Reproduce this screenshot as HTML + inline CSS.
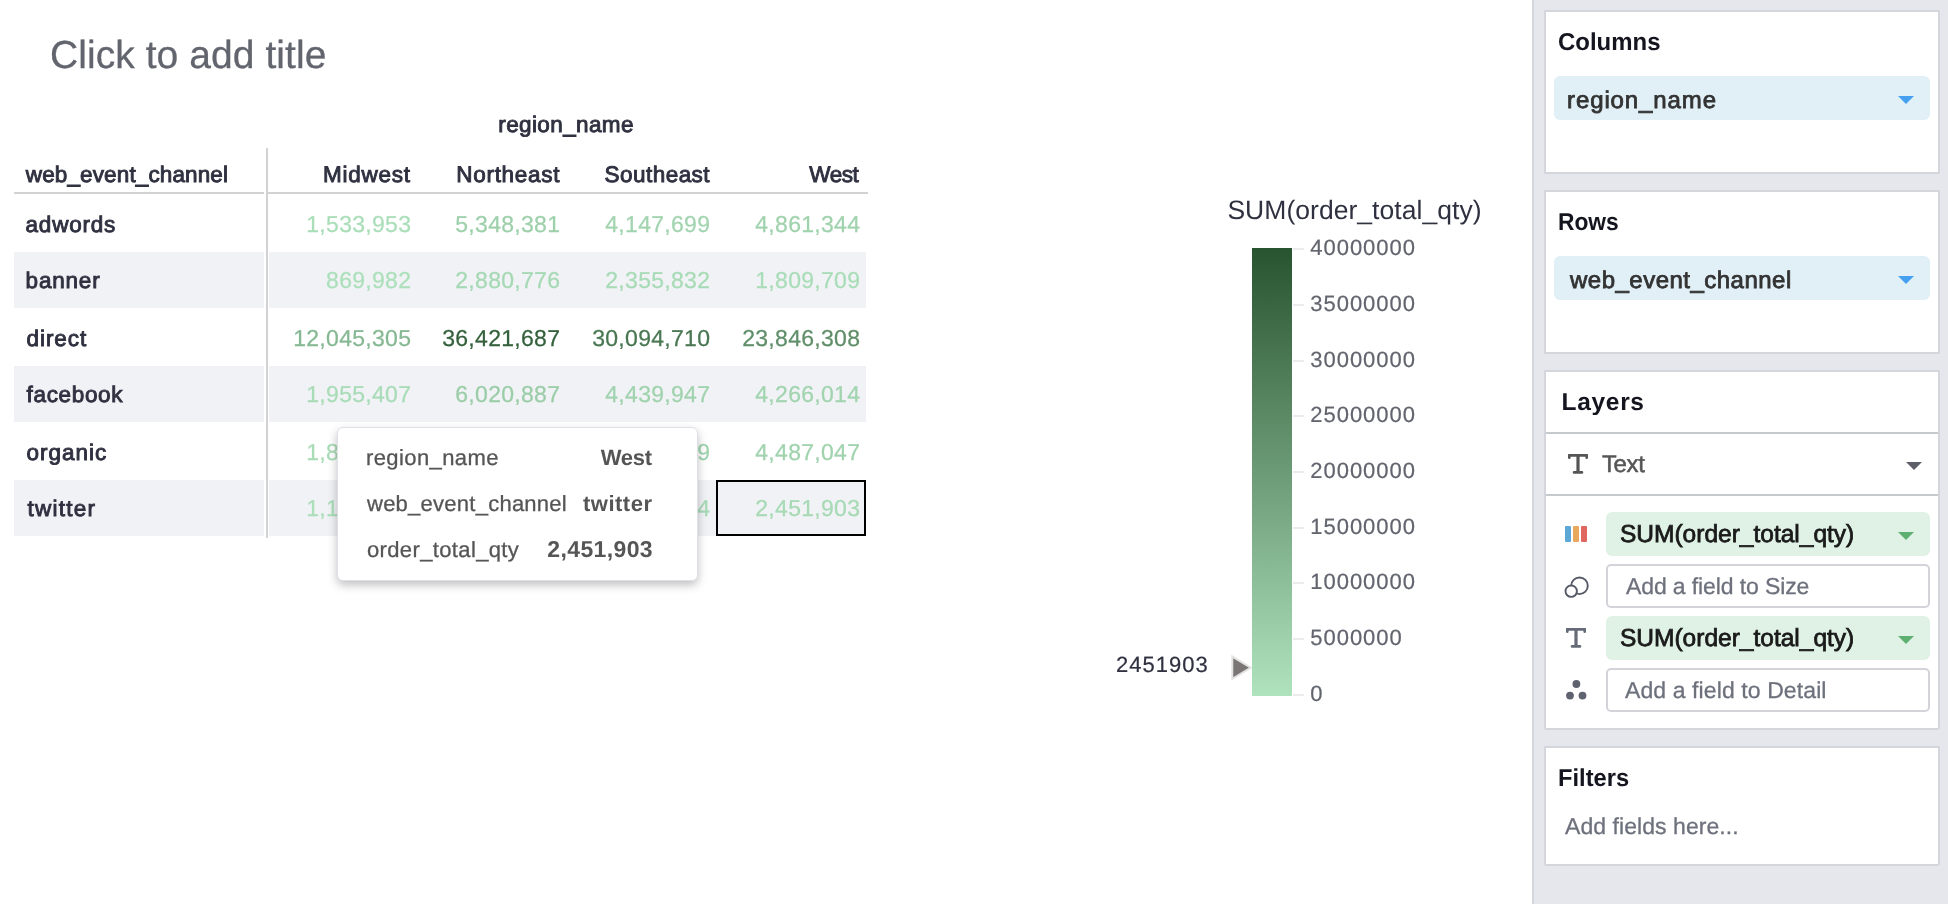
<!DOCTYPE html>
<html><head><meta charset="utf-8"><title>Pivot</title>
<style>
html,body{margin:0;padding:0;}
body{width:1948px;height:904px;position:relative;overflow:hidden;background:#fff;font-family:"Liberation Sans",sans-serif;}
.t{position:absolute;white-space:nowrap;line-height:1;text-rendering:geometricPrecision;}
.b{position:absolute;box-sizing:border-box;}
svg{position:absolute;overflow:visible;}
#root{position:absolute;left:0;top:0;width:1948px;height:904px;will-change:transform;}
</style></head><body><div id="root">
<div class="t " id="title" style="top:36px;font-size:39px;color:#62656e;letter-spacing:0.061px;-webkit-text-stroke:0.3px #62656e;left:50.0px;">Click to add title</div>
<div class="b " style="left:14px;top:252px;width:250px;height:56px;background:#f1f2f6;"></div>
<div class="b " style="left:269px;top:252px;width:597px;height:56px;background:#f1f2f6;"></div>
<div class="b " style="left:14px;top:366px;width:250px;height:56px;background:#f1f2f6;"></div>
<div class="b " style="left:269px;top:366px;width:597px;height:56px;background:#f1f2f6;"></div>
<div class="b " style="left:14px;top:480px;width:250px;height:56px;background:#f1f2f6;"></div>
<div class="b " style="left:269px;top:480px;width:597px;height:56px;background:#f1f2f6;"></div>
<div class="b " style="left:14px;top:192px;width:250px;height:2px;background:#d2d2d2;"></div>
<div class="b " style="left:268px;top:192px;width:600px;height:2px;background:#d2d2d2;"></div>
<div class="b " style="left:266px;top:148px;width:2px;height:390px;background:#d2d2d2;"></div>
<div class="t " id="hdr_region" style="top:114px;font-size:22.5px;color:#2f3140;letter-spacing:0.38px;-webkit-text-stroke:0.9px #2f3140;left:166.10000000000002px;width:800px;text-align:center;">region_name</div>
<div class="t " id="hdr_wec" style="top:164px;font-size:22.5px;color:#2f3140;letter-spacing:0.126px;-webkit-text-stroke:0.9px #2f3140;left:25.8px;">web_event_channel</div>
<div class="t " id="col_Midwest" style="top:164px;font-size:22.5px;color:#2f3140;letter-spacing:0.766px;-webkit-text-stroke:0.9px #2f3140;right:1537.23px;">Midwest</div>
<div class="t " id="col_Northeast" style="top:164px;font-size:22.5px;color:#2f3140;letter-spacing:0.697px;-webkit-text-stroke:0.9px #2f3140;right:1387.90px;">Northeast</div>
<div class="t " id="col_Southeast" style="top:164px;font-size:22.5px;color:#2f3140;letter-spacing:0.478px;-webkit-text-stroke:0.9px #2f3140;right:1237.92px;">Southeast</div>
<div class="t " id="col_West" style="top:164px;font-size:22.5px;color:#2f3140;letter-spacing:-0.467px;-webkit-text-stroke:0.9px #2f3140;right:1089.67px;">West</div>
<div class="t " id="row_adwords" style="top:214px;font-size:22.5px;color:#2f3140;letter-spacing:0.766px;-webkit-text-stroke:0.9px #2f3140;left:25.6px;">adwords</div>
<div class="t " id="v_adwords_Midwest" style="top:213px;font-size:23px;color:#aadeb9;letter-spacing:0.3px;-webkit-text-stroke:0.25px #aadeb9;right:1536.70px;">1,533,953</div>
<div class="t " id="v_adwords_Northeast" style="top:213px;font-size:23px;color:#9dd0ab;letter-spacing:0.3px;-webkit-text-stroke:0.25px #9dd0ab;right:1387.70px;">5,348,381</div>
<div class="t " id="v_adwords_Southeast" style="top:213px;font-size:23px;color:#a1d4af;letter-spacing:0.3px;-webkit-text-stroke:0.25px #a1d4af;right:1237.70px;">4,147,699</div>
<div class="t " id="v_adwords_West" style="top:213px;font-size:23px;color:#9fd2ad;letter-spacing:0.3px;-webkit-text-stroke:0.25px #9fd2ad;right:1087.70px;">4,861,344</div>
<div class="t " id="row_banner" style="top:270px;font-size:22.5px;color:#2f3140;letter-spacing:0.8px;-webkit-text-stroke:0.9px #2f3140;left:25.6px;">banner</div>
<div class="t " id="v_banner_Midwest" style="top:269px;font-size:23px;color:#ace0bb;letter-spacing:0.3px;-webkit-text-stroke:0.25px #ace0bb;right:1536.70px;">869,982</div>
<div class="t " id="v_banner_Northeast" style="top:269px;font-size:23px;color:#a5d9b4;letter-spacing:0.3px;-webkit-text-stroke:0.25px #a5d9b4;right:1387.70px;">2,880,776</div>
<div class="t " id="v_banner_Southeast" style="top:269px;font-size:23px;color:#a7dbb6;letter-spacing:0.3px;-webkit-text-stroke:0.25px #a7dbb6;right:1237.70px;">2,355,832</div>
<div class="t " id="v_banner_West" style="top:269px;font-size:23px;color:#a9ddb8;letter-spacing:0.3px;-webkit-text-stroke:0.25px #a9ddb8;right:1087.70px;">1,809,709</div>
<div class="t " id="row_direct" style="top:328px;font-size:22.5px;color:#2f3140;letter-spacing:0.92px;-webkit-text-stroke:0.9px #2f3140;left:26.6px;">direct</div>
<div class="t " id="v_direct_Midwest" style="top:327px;font-size:23px;color:#86b893;letter-spacing:0.3px;-webkit-text-stroke:0.25px #86b893;right:1536.70px;">12,045,305</div>
<div class="t " id="v_direct_Northeast" style="top:327px;font-size:23px;color:#34613c;letter-spacing:0.3px;-webkit-text-stroke:0.25px #34613c;right:1387.70px;">36,421,687</div>
<div class="t " id="v_direct_Southeast" style="top:327px;font-size:23px;color:#497752;letter-spacing:0.3px;-webkit-text-stroke:0.25px #497752;right:1237.70px;">30,094,710</div>
<div class="t " id="v_direct_West" style="top:327px;font-size:23px;color:#5f8e69;letter-spacing:0.3px;-webkit-text-stroke:0.25px #5f8e69;right:1087.70px;">23,846,308</div>
<div class="t " id="row_facebook" style="top:384px;font-size:22.5px;color:#2f3140;letter-spacing:0.658px;-webkit-text-stroke:0.9px #2f3140;left:26.6px;">facebook</div>
<div class="t " id="v_facebook_Midwest" style="top:383px;font-size:23px;color:#a8dcb7;letter-spacing:0.3px;-webkit-text-stroke:0.25px #a8dcb7;right:1536.70px;">1,955,407</div>
<div class="t " id="v_facebook_Northeast" style="top:383px;font-size:23px;color:#9bcda8;letter-spacing:0.3px;-webkit-text-stroke:0.25px #9bcda8;right:1387.70px;">6,020,887</div>
<div class="t " id="v_facebook_Southeast" style="top:383px;font-size:23px;color:#a0d3ae;letter-spacing:0.3px;-webkit-text-stroke:0.25px #a0d3ae;right:1237.70px;">4,439,947</div>
<div class="t " id="v_facebook_West" style="top:383px;font-size:23px;color:#a1d4af;letter-spacing:0.3px;-webkit-text-stroke:0.25px #a1d4af;right:1087.70px;">4,266,014</div>
<div class="t " id="row_organic" style="top:442px;font-size:22.5px;color:#2f3140;letter-spacing:1.0px;-webkit-text-stroke:0.9px #2f3140;left:26.4px;">organic</div>
<div class="t " id="v_organic_Midwest" style="top:441px;font-size:23px;color:#a9dcb7;letter-spacing:0.3px;-webkit-text-stroke:0.25px #a9dcb7;right:1536.70px;">1,843,210</div>
<div class="t " id="v_organic_Northeast" style="top:441px;font-size:23px;color:#9ccfaa;letter-spacing:0.3px;-webkit-text-stroke:0.25px #9ccfaa;right:1387.70px;">5,612,448</div>
<div class="t " id="v_organic_Southeast" style="top:441px;font-size:23px;color:#a0d4af;letter-spacing:0.3px;-webkit-text-stroke:0.25px #a0d4af;right:1237.70px;">4,305,279</div>
<div class="t " id="v_organic_West" style="top:441px;font-size:23px;color:#a0d3ae;letter-spacing:0.3px;-webkit-text-stroke:0.25px #a0d3ae;right:1087.70px;">4,487,047</div>
<div class="t " id="row_twitter" style="top:498px;font-size:22.5px;color:#2f3140;letter-spacing:1.266px;-webkit-text-stroke:0.9px #2f3140;left:27.4px;">twitter</div>
<div class="t " id="v_twitter_Midwest" style="top:497px;font-size:23px;color:#abdfba;letter-spacing:0.3px;-webkit-text-stroke:0.25px #abdfba;right:1536.70px;">1,102,345</div>
<div class="t " id="v_twitter_Northeast" style="top:497px;font-size:23px;color:#a5d8b3;letter-spacing:0.3px;-webkit-text-stroke:0.25px #a5d8b3;right:1387.70px;">3,048,711</div>
<div class="t " id="v_twitter_Southeast" style="top:497px;font-size:23px;color:#a7dab5;letter-spacing:0.3px;-webkit-text-stroke:0.25px #a7dab5;right:1237.70px;">2,401,864</div>
<div class="t " id="v_twitter_West" style="top:497px;font-size:23px;color:#a7dab5;letter-spacing:0.3px;-webkit-text-stroke:0.25px #a7dab5;right:1087.70px;">2,451,903</div>
<div class="b " style="left:716px;top:480px;width:150px;height:56px;border:2px solid #000;background:#f1f2f6;"></div>
<div class="t " style="top:497px;font-size:23px;color:#a7dab5;letter-spacing:0.3px;-webkit-text-stroke:0.25px #a7dab5;right:1087.70px;">2,451,903</div>
<div class="b " style="left:337px;top:427px;width:361px;height:154px;background:#fff;border:1px solid #dfe0e6;border-radius:6px;box-shadow:0 4px 10px rgba(0,0,0,0.25);"></div>
<div class="t " id="tk0" style="top:447px;font-size:22px;color:#555555;letter-spacing:0.4px;-webkit-text-stroke:0.3px #555555;left:366.0px;">region_name</div>
<div class="t " id="tv0" style="top:447px;font-size:22px;color:#555555;font-weight:bold;letter-spacing:-0.331px;right:1296.33px;">West</div>
<div class="t " id="tk1" style="top:493px;font-size:22px;color:#555555;letter-spacing:0.25px;-webkit-text-stroke:0.3px #555555;left:367.0px;">web_event_channel</div>
<div class="t " id="tv1" style="top:493px;font-size:22px;color:#555555;font-weight:bold;letter-spacing:0.498px;right:1295.50px;">twitter</div>
<div class="t " id="tk2" style="top:539px;font-size:22px;color:#555555;letter-spacing:0.359px;-webkit-text-stroke:0.3px #555555;left:367.0px;">order_total_qty</div>
<div class="t " id="tv2" style="top:538px;font-size:23px;color:#555555;font-weight:bold;letter-spacing:0.373px;right:1295.03px;">2,451,903</div>
<div class="t " id="leg_title" style="top:197px;font-size:26.5px;color:#2f3140;letter-spacing:0.042px;left:1227.4px;">SUM(order_total_qty)</div>
<div class="b " style="left:1252px;top:248px;width:40px;height:448px;background:linear-gradient(to bottom,#28542f,#afe3be);"></div>
<div class="b " style="left:1293px;top:248px;width:11px;height:2px;background:#ececec;"></div>
<div class="t " id="tick0" style="top:237px;font-size:22px;color:#62656e;letter-spacing:0.995px;-webkit-text-stroke:0.2px #62656e;left:1310.2px;">40000000</div>
<div class="b " style="left:1293px;top:304px;width:11px;height:2px;background:#ececec;"></div>
<div class="t " id="tick1" style="top:293px;font-size:22px;color:#62656e;letter-spacing:0.995px;-webkit-text-stroke:0.2px #62656e;left:1310.2px;">35000000</div>
<div class="b " style="left:1293px;top:360px;width:11px;height:2px;background:#ececec;"></div>
<div class="t " id="tick2" style="top:349px;font-size:22px;color:#62656e;letter-spacing:0.995px;-webkit-text-stroke:0.2px #62656e;left:1310.2px;">30000000</div>
<div class="b " style="left:1293px;top:415px;width:11px;height:2px;background:#ececec;"></div>
<div class="t " id="tick3" style="top:404px;font-size:22px;color:#62656e;letter-spacing:0.995px;-webkit-text-stroke:0.2px #62656e;left:1310.2px;">25000000</div>
<div class="b " style="left:1293px;top:471px;width:11px;height:2px;background:#ececec;"></div>
<div class="t " id="tick4" style="top:460px;font-size:22px;color:#62656e;letter-spacing:0.995px;-webkit-text-stroke:0.2px #62656e;left:1310.2px;">20000000</div>
<div class="b " style="left:1293px;top:527px;width:11px;height:2px;background:#ececec;"></div>
<div class="t " id="tick5" style="top:516px;font-size:22px;color:#62656e;letter-spacing:0.995px;-webkit-text-stroke:0.2px #62656e;left:1310.2px;">15000000</div>
<div class="b " style="left:1293px;top:582px;width:11px;height:2px;background:#ececec;"></div>
<div class="t " id="tick6" style="top:571px;font-size:22px;color:#62656e;letter-spacing:0.995px;-webkit-text-stroke:0.2px #62656e;left:1310.2px;">10000000</div>
<div class="b " style="left:1293px;top:638px;width:11px;height:2px;background:#ececec;"></div>
<div class="t " id="tick7" style="top:627px;font-size:22px;color:#62656e;letter-spacing:0.995px;-webkit-text-stroke:0.2px #62656e;left:1310.2px;">5000000</div>
<div class="b " style="left:1293px;top:694px;width:11px;height:2px;background:#ececec;"></div>
<div class="t " id="tick8" style="top:683px;font-size:22px;color:#62656e;letter-spacing:0.995px;-webkit-text-stroke:0.2px #62656e;left:1310.2px;">0</div>
<div class="t " id="leg_val" style="top:654px;font-size:22px;color:#2f3140;letter-spacing:1.017px;-webkit-text-stroke:0.2px #2f3140;left:1116.0px;">2451903</div>
<svg style="left:1228px;top:652px" width="28" height="32" viewBox="0 0 28 32"><path d="M4.3 4.6 L4.3 26.8 L22.8 15.7 Z" fill="#7a7676" stroke="#e2e2e2" stroke-width="2" stroke-linejoin="miter"/></svg>
<div class="b " style="left:1532px;top:0px;width:416px;height:904px;background:#e6e7ec;border-left:2px solid #d5d6dc;"></div>
<div class="b " style="left:1544px;top:10px;width:396px;height:164px;background:#fff;border:2px solid #d4d6dc;"></div>
<div class="b " style="left:1544px;top:190px;width:396px;height:164px;background:#fff;border:2px solid #d4d6dc;"></div>
<div class="b " style="left:1544px;top:370px;width:396px;height:360px;background:#fff;border:2px solid #d4d6dc;border-radius:0 0 3px 3px;"></div>
<div class="b " style="left:1544px;top:746px;width:396px;height:120px;background:#fff;border:2px solid #d4d6dc;border-radius:0 0 3px 3px;"></div>
<div class="t " id="h_columns" style="top:31px;font-size:24.5px;color:#14151f;font-weight:bold;transform:scaleX(0.978);transform-origin:0 50%;left:1557.5px;">Columns</div>
<div class="t " id="h_rows" style="top:211px;font-size:24.5px;color:#14151f;font-weight:bold;transform:scaleX(0.93);transform-origin:0 50%;left:1558px;">Rows</div>
<div class="t " id="h_layers" style="top:391px;font-size:24.5px;color:#14151f;font-weight:bold;letter-spacing:0.68px;left:1561.6px;">Layers</div>
<div class="t " id="h_filters" style="top:767px;font-size:24.5px;color:#14151f;font-weight:bold;transform:scaleX(0.967);transform-origin:0 50%;left:1557.5px;">Filters</div>
<div class="b " style="left:1554px;top:76px;width:376px;height:44px;background:#e1eff6;border-radius:6px;"></div>
<div class="t " id="p_region" style="top:89px;font-size:24px;color:#333333;letter-spacing:0.9px;-webkit-text-stroke:0.8px #333333;left:1567.0px;">region_name</div>
<svg style="left:1898px;top:96px" width="16" height="8" viewBox="0 0 16 8"><path d="M0 0 L16 0 L8 8 Z" fill="#46a0f0"/></svg>
<div class="b " style="left:1554px;top:256px;width:376px;height:44px;background:#e1eff6;border-radius:6px;"></div>
<div class="t " id="p_wec" style="top:269px;font-size:24px;color:#333333;letter-spacing:0.486px;-webkit-text-stroke:0.8px #333333;left:1570.0px;">web_event_channel</div>
<svg style="left:1898px;top:276px" width="16" height="8" viewBox="0 0 16 8"><path d="M0 0 L16 0 L8 8 Z" fill="#46a0f0"/></svg>
<div class="b " style="left:1546px;top:432px;width:392px;height:2px;background:#c6cacc;"></div>
<div class="b " style="left:1546px;top:494px;width:392px;height:2px;background:#c6cacc;"></div>
<svg style="left:1568px;top:454px" width="20" height="20" viewBox="0 0 20 20"><path d="M0.7 0 H19.3 Q20 0 20 0.7 V3.8 Q20 5 18.7 5 Q17.4 5 17.4 3.8 V2.7 H11.6 V17 H13.9 Q15.3 17 15.3 18.4 Q15.3 19.8 13.9 19.8 H6.1 Q4.7 19.8 4.7 18.4 Q4.7 17 6.1 17 H8.4 V2.7 H2.6 V3.8 Q2.6 5 1.3 5 Q0 5 0 3.8 V0.7 Q0 0 0.7 0 Z" fill="#555555"/></svg>
<div class="t " id="l_text" style="top:453px;font-size:24px;color:#555555;letter-spacing:-0.398px;-webkit-text-stroke:0.5px #555555;left:1602.0px;">Text</div>
<svg style="left:1906px;top:462px" width="16" height="8" viewBox="0 0 16 8"><path d="M0 0 L16 0 L8 8 Z" fill="#5c5f68"/></svg>
<div class="b " style="left:1606px;top:512px;width:324px;height:44px;background:#dff2e5;border-radius:6px;"></div>
<div class="t " id="g512" style="top:523px;font-size:24.5px;color:#1a1a1a;letter-spacing:0.002px;-webkit-text-stroke:0.8px #1a1a1a;left:1620.0px;">SUM(order_total_qty)</div>
<svg style="left:1898px;top:532px" width="16" height="8" viewBox="0 0 16 8"><path d="M0 0 L16 0 L8 8 Z" fill="#5fb070"/></svg>
<div class="b " style="left:1606px;top:616px;width:324px;height:44px;background:#dff2e5;border-radius:6px;"></div>
<div class="t " id="g616" style="top:627px;font-size:24.5px;color:#1a1a1a;letter-spacing:0.002px;-webkit-text-stroke:0.8px #1a1a1a;left:1620.0px;">SUM(order_total_qty)</div>
<svg style="left:1898px;top:636px" width="16" height="8" viewBox="0 0 16 8"><path d="M0 0 L16 0 L8 8 Z" fill="#5fb070"/></svg>
<div class="b " style="left:1606px;top:564px;width:324px;height:44px;background:#fff;border:2px solid #d2d4da;border-radius:5px;"></div>
<div class="t " id="in564" style="top:575px;font-size:23px;color:#6d717c;letter-spacing:-0.112px;-webkit-text-stroke:0.3px #6d717c;left:1626.0px;">Add a field to Size</div>
<div class="b " style="left:1606px;top:668px;width:324px;height:44px;background:#fff;border:2px solid #d2d4da;border-radius:5px;"></div>
<div class="t " id="in668" style="top:679px;font-size:23px;color:#6d717c;letter-spacing:0.1px;-webkit-text-stroke:0.3px #6d717c;left:1625.0px;">Add a field to Detail</div>
<div class="b " style="left:1565px;top:526px;width:6px;height:16px;background:#5ba7d6;border-radius:1px;"></div>
<div class="b " style="left:1573px;top:526px;width:6px;height:16px;background:#e9a95d;border-radius:1px;"></div>
<div class="b " style="left:1581px;top:526px;width:6px;height:16px;background:#e0675f;border-radius:1px;"></div>
<svg style="left:1562px;top:574px" width="28" height="28" viewBox="0 0 28 28"><circle cx="17.5" cy="11.8" r="8.3" fill="none" stroke="#555a66" stroke-width="1.9"/><circle cx="9.2" cy="17.2" r="5.7" fill="#fff" stroke="#555a66" stroke-width="1.9"/></svg>
<svg style="left:1566px;top:628px" width="20" height="20" viewBox="0 0 20 20"><path d="M0.7 0 H19.3 Q20 0 20 0.7 V3.8 Q20 5 18.7 5 Q17.4 5 17.4 3.8 V2.7 H11.6 V17 H13.9 Q15.3 17 15.3 18.4 Q15.3 19.8 13.9 19.8 H6.1 Q4.7 19.8 4.7 18.4 Q4.7 17 6.1 17 H8.4 V2.7 H2.6 V3.8 Q2.6 5 1.3 5 Q0 5 0 3.8 V0.7 Q0 0 0.7 0 Z" fill="#666b78"/></svg>
<svg style="left:1564px;top:678px" width="26" height="24" viewBox="0 0 26 24"><circle cx="12.4" cy="6" r="3.9" fill="#5f6370"/><circle cx="6" cy="17.6" r="3.9" fill="#5f6370"/><circle cx="18.5" cy="17.6" r="3.9" fill="#5f6370"/></svg>
<div class="t " id="f_add" style="top:815px;font-size:23px;color:#6d717c;letter-spacing:0.059px;-webkit-text-stroke:0.3px #6d717c;left:1565.0px;">Add fields here...</div>
</div></body></html>
